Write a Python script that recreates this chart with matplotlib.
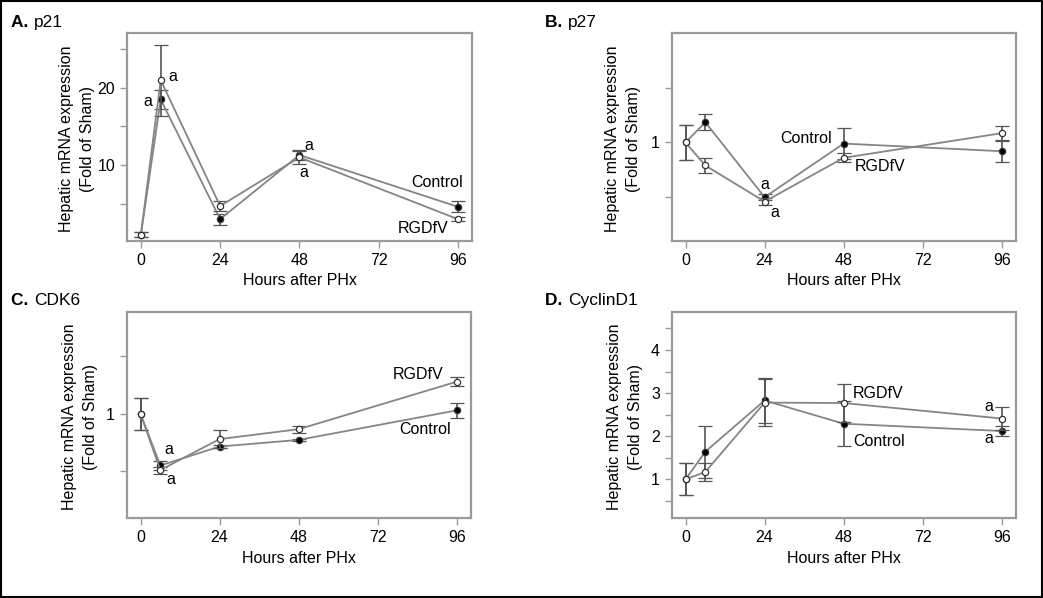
import matplotlib
matplotlib.use("Agg")
import matplotlib.pyplot as plt
from matplotlib import font_manager

names = {f.name for f in font_manager.fontManager.ttflist}
fam = "Liberation Sans Narrow" if "Liberation Sans Narrow" in names else "Liberation Sans"
plt.rcParams['font.family'] = [fam, 'DejaVu Sans']

hours = [0, 6, 24, 48, 96]

# Panel A: p21
a_ctrl = [1.0, 18.5, 3.0, 11.3, 4.6]
a_ctrl_err = [0.3, 1.2, 0.7, 0.7, 0.7]
a_rgd = [1.0, 21.0, 4.7, 11.0, 3.0]
a_rgd_err = [0.3, 4.6, 0.7, 0.8, 0.3]

# Panel B: p27
b_ctrl = [1.0, 1.185, 0.50, 0.99, 0.92]
b_ctrl_err = [0.16, 0.075, 0.03, 0.14, 0.10]
b_rgd = [1.0, 0.79, 0.46, 0.86, 1.085]
b_rgd_err = [0.16, 0.065, 0.03, 0.04, 0.07]

# Panel C: CDK6
c_ctrl = [1.0, 0.55, 0.715, 0.773, 1.03]
c_ctrl_err = [0.14, 0.04, 0.01, 0.01, 0.065]
c_rgd = [1.0, 0.51, 0.78, 0.866, 1.28]
c_rgd_err = [0.14, 0.03, 0.075, 0.03, 0.04]

# Panel D: CyclinD1
d_ctrl = [1.0, 1.64, 2.83, 2.29, 2.12]
d_ctrl_err = [0.37, 0.60, 0.52, 0.52, 0.11]
d_rgd = [1.0, 1.17, 2.78, 2.77, 2.41]
d_rgd_err = [0.37, 0.21, 0.55, 0.45, 0.27]

xticks = [0, 24, 48, 72, 96]
gray = "#858585"

fig = plt.figure(figsize=(10.43, 5.98), dpi=100)
fig.patch.set_facecolor("white")

def panel(rect, ctrl, cerr, rgd, rerr, ylim, yticks, ylabels, labx):
    ax = fig.add_axes(rect)
    for vals, err, fc, z in ((ctrl, cerr, "black", 3), (rgd, rerr, "white", 4)):
        ax.errorbar(hours, vals, yerr=err, color=gray, lw=1.3, ecolor="#555555",
                    elinewidth=1.2, capsize=5, capthick=1.2, marker="o",
                    markersize=4.5, markerfacecolor=fc, markeredgecolor="#333333",
                    markeredgewidth=0.9, zorder=z)
    ax.set_xlim(-4.2, 100.3)
    ax.set_ylim(*ylim)
    ax.set_xticks(xticks)
    ax.set_xticklabels([str(t) for t in xticks], fontsize=11.5)
    ax.set_yticks(yticks)
    ax.set_yticklabels(ylabels, fontsize=11.5)
    for s in ax.spines.values():
        s.set_color("#9a9a9a")
        s.set_linewidth(1.6)
    ax.tick_params(colors="#9a9a9a", labelcolor="black", length=5, width=1.0)
    ax.set_xlabel("Hours after PHx", fontsize=11.5, labelpad=4)
    ax.set_ylabel("Hepatic mRNA expression\n(Fold of Sham)", fontsize=11.5,
                  linespacing=1.5)
    ax.yaxis.set_label_coords(labx, 0.49)
    return ax

axA = panel([0.1218, 0.597, 0.3308, 0.3478], a_ctrl, a_ctrl_err, a_rgd, a_rgd_err,
            (0.17, 27.1), [5, 10, 15, 20, 25], ["", "10", "", "20", ""], -0.093)
axB = panel([0.644, 0.597, 0.3301, 0.3478], b_ctrl, b_ctrl_err, b_rgd, b_rgd_err,
            (0.1, 2.0), [0.5, 1.0, 1.5], ["", "1", ""], -0.089)
axC = panel([0.1215, 0.1333, 0.3300, 0.3455], c_ctrl, c_ctrl_err, c_rgd, c_rgd_err,
            (0.09, 1.89), [0.5, 1.0, 1.5], ["", "1", ""], -0.084)
axD = panel([0.644, 0.1333, 0.3301, 0.3455], d_ctrl, d_ctrl_err, d_rgd, d_rgd_err,
            (0.095, 4.89), [0.5, 1, 1.5, 2, 2.5, 3, 3.5, 4, 4.5],
            ["", "1", "", "2", "", "3", "", "4", ""], -0.083)

fs = 11.5
# annotations A
axA.text(2.2, 18.2, "a", fontsize=fs, ha="center", va="center")
axA.text(9.6, 21.5, "a", fontsize=fs, ha="center", va="center")
axA.text(51.0, 12.5, "a", fontsize=fs, ha="center", va="center")
axA.text(49.4, 9.0, "a", fontsize=fs, ha="center", va="center")
axA.text(97.5, 7.8, "Control", fontsize=fs, ha="right", va="center")
axA.text(93.0, 1.85, "RGDfV", fontsize=fs, ha="right", va="center")
# annotations B
axB.text(24.2, 0.615, "a", fontsize=fs, ha="center", va="center")
axB.text(27.0, 0.364, "a", fontsize=fs, ha="center", va="center")
axB.text(44.5, 1.04, "Control", fontsize=fs, ha="right", va="center")
axB.text(51.5, 0.78, "RGDfV", fontsize=fs, ha="left", va="center")
# annotations C
axC.text(8.5, 0.69, "a", fontsize=fs, ha="center", va="center")
axC.text(9.1, 0.43, "a", fontsize=fs, ha="center", va="center")
axC.text(92.0, 1.34, "RGDfV", fontsize=fs, ha="right", va="center")
axC.text(94.2, 0.86, "Control", fontsize=fs, ha="right", va="center")
# annotations D
axD.text(92.1, 2.68, "a", fontsize=fs, ha="center", va="center")
axD.text(92.1, 1.94, "a", fontsize=fs, ha="center", va="center")
axD.text(50.9, 3.0, "RGDfV", fontsize=fs, ha="left", va="center")
axD.text(50.9, 1.87, "Control", fontsize=fs, ha="left", va="center")

# panel titles
for x, y, lab, name in ((0.011, 0.963, "A.", "p21"), (0.523, 0.963, "B.", "p27"),
                        (0.011, 0.498, "C.", "CDK6"), (0.523, 0.498, "D.", "CyclinD1")):
    t = fig.text(x, y, lab + " ", fontsize=12.5, fontweight="bold", va="center", ha="left")
    fig.canvas.draw()
    bb = t.get_window_extent()
    fig.text(bb.x1 / fig.bbox.width, y, name, fontsize=12.5, va="center", ha="left")

# outer border
fig.add_artist(plt.Rectangle((0.001, 0.002), 0.998, 0.996, transform=fig.transFigure,
                             fill=False, edgecolor="black", lw=1.5))

fig.savefig("out.png", dpi=100)
